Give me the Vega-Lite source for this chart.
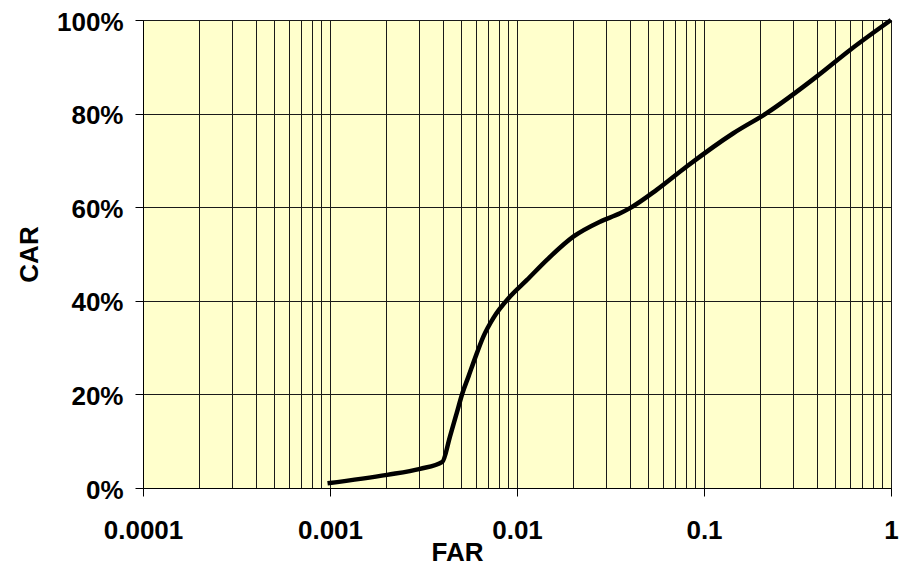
{
  "$schema": "https://vega.github.io/schema/vega-lite/v6.json",
  "width": 748,
  "height": 468,
  "autosize": "none",
  "padding": {"left": 143, "top": 20, "right": 15, "bottom": 78},
  "background": "white",
  "config": {
    "view": {"fill": "#FFFFCC", "stroke": "#808080", "strokeWidth": 1},
    "axis": {
      "labelFont": "Liberation Sans",
      "titleFont": "Liberation Sans",
      "labelFontWeight": "bold",
      "titleFontWeight": "bold",
      "labelColor": "#000000",
      "titleColor": "#000000",
      "domainColor": "#000000",
      "tickColor": "#000000",
      "gridColor": "#1a1a1a",
      "gridOpacity": 1,
      "gridWidth": 1,
      "labelFontSize": 26,
      "titleFontSize": 26
    }
  },
  "data": {
    "values": [
      {"far": 0.00097, "car": 0.010},
      {"far": 0.00202, "car": 0.028},
      {"far": 0.00303, "car": 0.041},
      {"far": 0.00399, "car": 0.056},
      {"far": 0.00438, "car": 0.110},
      {"far": 0.00476, "car": 0.160},
      {"far": 0.0051, "car": 0.202},
      {"far": 0.0055, "car": 0.238},
      {"far": 0.00596, "car": 0.277},
      {"far": 0.0066, "car": 0.323},
      {"far": 0.00747, "car": 0.363},
      {"far": 0.00918, "car": 0.409},
      {"far": 0.01127, "car": 0.444},
      {"far": 0.0145, "car": 0.488},
      {"far": 0.02, "car": 0.537},
      {"far": 0.0278, "car": 0.569},
      {"far": 0.0356, "car": 0.587},
      {"far": 0.0402, "car": 0.598},
      {"far": 0.0558, "car": 0.637},
      {"far": 0.0808, "car": 0.687},
      {"far": 0.1435, "car": 0.758},
      {"far": 0.2163, "car": 0.801},
      {"far": 0.4, "car": 0.879},
      {"far": 0.604, "car": 0.936},
      {"far": 1.0, "car": 1.0}
    ]
  },
  "mark": {"type": "line", "color": "#000000", "strokeWidth": 4.5, "interpolate": "monotone", "clip": false},
  "encoding": {
    "x": {
      "field": "far",
      "type": "quantitative",
      "scale": {"type": "log", "domain": [0.0001, 1], "nice": false},
      "axis": {
        "title": "FAR",
        "values": [0.0001, 0.0002, 0.0003, 0.0004, 0.0005, 0.0006, 0.0007, 0.0008, 0.0009,
                   0.001, 0.002, 0.003, 0.004, 0.005, 0.006, 0.007, 0.008, 0.009,
                   0.01, 0.02, 0.03, 0.04, 0.05, 0.06, 0.07, 0.08, 0.09,
                   0.1, 0.2, 0.3, 0.4, 0.5, 0.6, 0.7, 0.8, 0.9, 1],
        "labelExpr": "abs(log(datum.value)/LN10 - round(log(datum.value)/LN10)) < 0.000001 ? toString(datum.value) : ''",
        "tickOpacity": {"condition": {"test": "abs(log(datum.value)/LN10 - round(log(datum.value)/LN10)) < 0.000001", "value": 1}, "value": 0},
        "tickSize": 8,
        "labelPadding": 21,
        "labelOverlap": false,
        "labelFlush": false,
        "grid": true,
        "titleX": 314,
        "titleY": 72,
        "titleBaseline": "alphabetic",
        "titleAlign": "center"
      }
    },
    "y": {
      "field": "car",
      "type": "quantitative",
      "scale": {"domain": [0, 1], "nice": false},
      "axis": {
        "title": "CAR",
        "values": [0, 0.2, 0.4, 0.6, 0.8, 1],
        "format": ".0%",
        "tickSize": 8,
        "labelPadding": 12,
        "labelOffset": 2,
        "grid": true,
        "titleX": -106,
        "titleBaseline": "alphabetic"
      }
    }
  }
}
